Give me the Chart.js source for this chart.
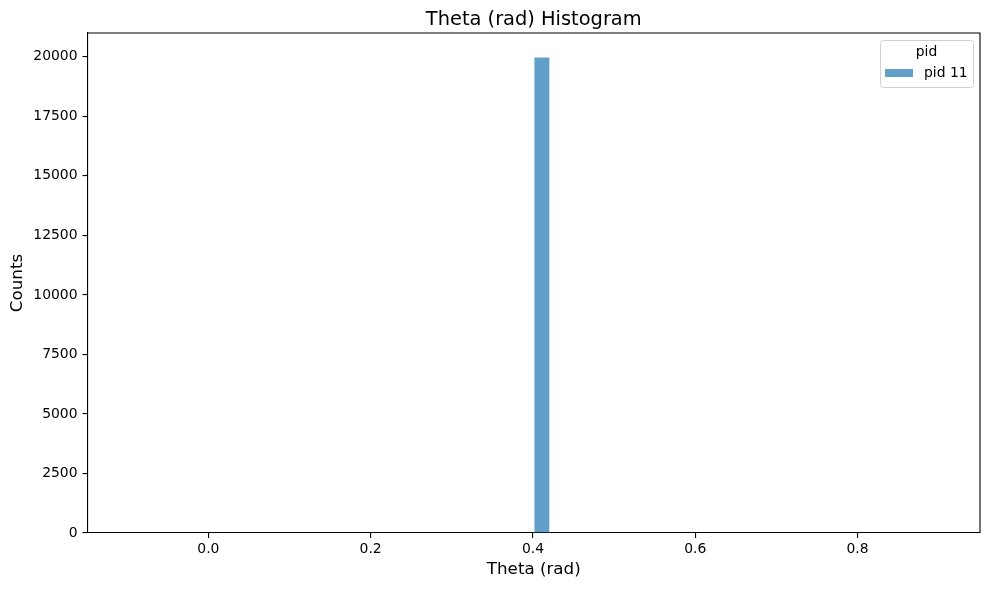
<!DOCTYPE html>
<html>
<head>
<meta charset="utf-8">
<script src="https://cdn.jsdelivr.net/npm/chart.js@4.4.1/dist/chart.umd.min.js"></script>
<style>
  html, body { margin:0; padding:0; background:#fff; }
  #wrap { width:989px; height:590px; }
</style>
</head>
<body>
<div id="wrap"><canvas id="histChart" width="989" height="590"></canvas></div>
<script>
// data - histogram of theta, 50 bins of 0.02 starting at -0.099
const binStart = -0.099;
const binWidth = 0.02;
const counts = [
  0,0,0,0,0,0,0,0,0,0,
  0,0,0,0,0,0,0,0,0,0,
  0,0,0,0,0,20000,0,0,0,0,
  0,0,0,0,0,0,0,0,0,0,
  0,0,0,0,0,0,0,0,0,0
];
const xTicks = [0.0, 0.2, 0.4, 0.6, 0.8];
const yTicks = [0, 2500, 5000, 7500, 10000, 12500, 15000, 17500, 20000];
const seriesLabel = 'pid 11';
const legendTitle = 'pid';
const chartTitle = 'Theta (rad) Histogram';

const $ = id => document.getElementById(id);
const FONT = "'DejaVu Sans', sans-serif";
const barFill = 'rgba(31,119,180,0.7)';

const points = counts.map((c, i) => ({ x: binStart + (i + 0.5) * binWidth, y: c }));

// top + right spines, and title centred over the axes (like matplotlib)
const framePlugin = {
  id: 'frame',
  afterDraw(chart){
    const { ctx, chartArea: a } = chart;
    ctx.save();
    ctx.strokeStyle = '#000';
    ctx.lineWidth = 1.1;
    ctx.beginPath();
    ctx.moveTo(a.left, a.top); ctx.lineTo(a.right, a.top);
    ctx.lineTo(a.right, a.bottom);
    ctx.stroke();
    ctx.font = '19.4px ' + FONT;
    ctx.fillStyle = '#000';
    ctx.textAlign = 'center';
    ctx.textBaseline = 'alphabetic';
    ctx.fillText(chartTitle, (a.left + a.right) / 2, 25);
    ctx.restore();
  }
};

// matplotlib-ish legend box, upper right
const legendBox = {
  id: 'legendBox',
  afterDraw(chart){
    const { ctx, chartArea: a } = chart;
    const w = 93, h = 47;
    const x = a.right - 7 - w, y = a.top + 7;
    ctx.save();
    ctx.fillStyle = 'rgba(255,255,255,0.8)';
    ctx.strokeStyle = '#d0d0d0';
    ctx.lineWidth = 1;
    ctx.beginPath();
    ctx.roundRect(x + 0.5, y + 0.5, w, h, 3);
    ctx.fill(); ctx.stroke();
    ctx.font = '13.9px ' + FONT;
    ctx.fillStyle = '#000';
    ctx.textBaseline = 'middle';
    ctx.textAlign = 'center';
    ctx.fillText(legendTitle, x + w / 2, y + 12);
    ctx.fillStyle = barFill;
    ctx.fillRect(x + 5, y + 29, 28, 8);
    ctx.fillStyle = '#000';
    ctx.textAlign = 'left';
    ctx.fillText(seriesLabel, x + 44, y + 33.5);
    ctx.restore();
  }
};

const histChart = new Chart($('histChart'), {
  type: 'bar',
  data: {
    datasets: [{
      label: seriesLabel,
      data: points,
      backgroundColor: barFill,
      borderColor: 'rgba(255,255,255,0.7)',
      borderWidth: 1,
      categoryPercentage: 1.0,
      barPercentage: 1.0
    }]
  },
  options: {
    responsive: false,
    animation: false,
    layout: { padding: { left: 0, right: 9, top: 33, bottom: 0 } },
    plugins: {
      legend: { display: false },
      tooltip: { enabled: false },
      title: { display: false }
    },
    scales: {
      x: {
        type: 'linear',
        offset: false,
        min: -0.149,
        max: 0.951,
        afterBuildTicks: s => { s.ticks = xTicks.map(v => ({ value: v })); },
        afterFit: s => { s.height = 57; },
        ticks: {
          color: '#000',
          font: { family: FONT, size: 13.9 },
          padding: 3,
          maxRotation: 0,
          callback: v => Number(v).toFixed(1)
        },
        grid: { offset: false, drawOnChartArea: false, drawTicks: true, tickLength: 5, color: '#000', lineWidth: 1.1 },
        border: { display: true, color: '#000', width: 1.1 },
        title: {
          display: true,
          text: 'Theta (rad)',
          color: '#000',
          font: { family: FONT, size: 16.7 },
          padding: { top: 0, bottom: 10 }
        }
      },
      y: {
        min: 0,
        max: 21000,
        afterBuildTicks: s => { s.ticks = yTicks.map(v => ({ value: v })); },
        afterFit: s => { s.width = 87.5; },
        ticks: {
          color: '#000',
          font: { family: FONT, size: 13.9 },
          padding: 5,
          callback: v => String(v)
        },
        grid: { drawOnChartArea: false, drawTicks: true, tickLength: 5, color: '#000', lineWidth: 1.1 },
        border: { display: true, color: '#000', width: 1.1 },
        title: {
          display: true,
          text: 'Counts',
          color: '#000',
          font: { family: FONT, size: 16.7 },
          padding: { top: 8, bottom: 0 }
        }
      }
    }
  },
  plugins: [framePlugin, legendBox]
});
</script>
</body>
</html>
